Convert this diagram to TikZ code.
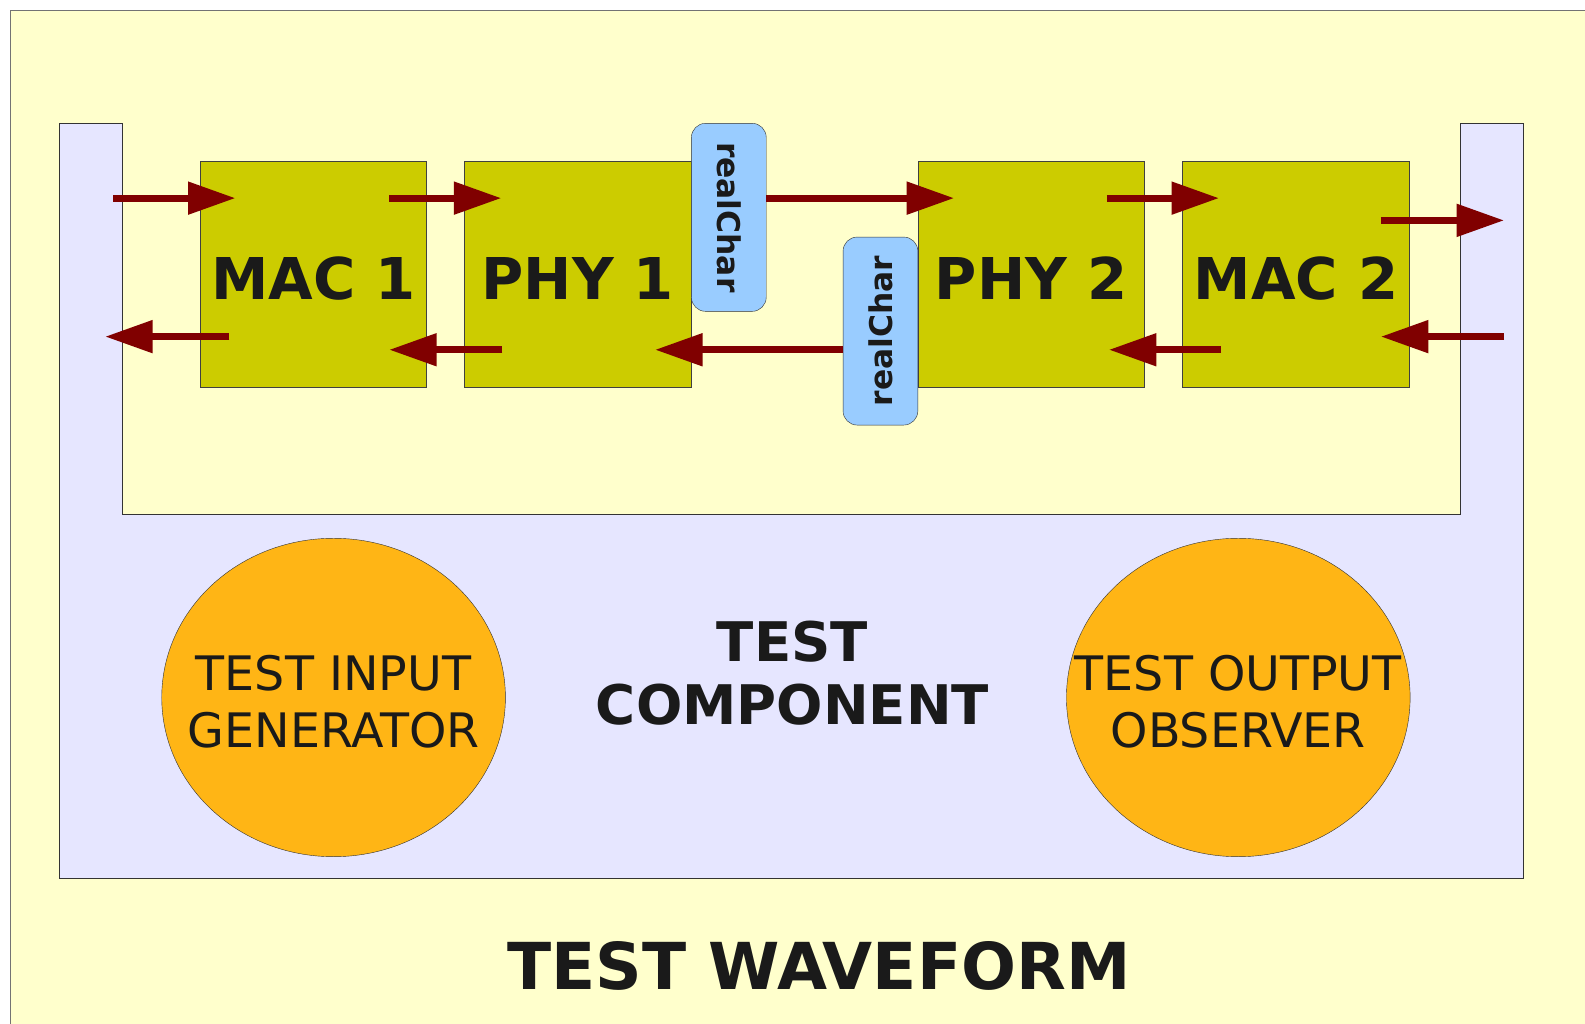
\documentclass[tikz,border=0pt]{standalone}
\usepackage{fontspec}
\setmainfont{DejaVu Sans}
\usetikzlibrary{arrows.meta,shapes.geometric}
\definecolor{waveyellow}{HTML}{FFFFCC}
\definecolor{complavender}{HTML}{E6E6FF}
\definecolor{blockolive}{HTML}{CCCC00}
\definecolor{chanblue}{HTML}{99CCFF}
\definecolor{testorange}{HTML}{FFB515}
\definecolor{flowred}{HTML}{800000}
\definecolor{textgray}{HTML}{1A1A1A}
\tikzset{
  block/.style={draw=black!75, fill=blockolive, minimum width=224pt, minimum height=224pt,
    inner sep=0pt, text height=50pt, text depth=0pt, text=textgray,
    font=\fontsize{57}{60}\selectfont\bfseries},
  channel/.style={draw=black!80, fill=chanblue, rounded corners=14pt, minimum width=186pt,
    minimum height=74pt, inner sep=0pt, text=textgray, font=\fontsize{31}{34}\selectfont\bfseries},
  tester/.style={ellipse, draw=black!80, fill=testorange, minimum width=340pt, minimum height=315pt,
    inner sep=0pt},
  testtext/.style={align=center, inner sep=0pt, text=textgray, font=\fontsize{47}{57}\selectfont},
  title/.style={align=center, inner sep=0pt, text=textgray},
  flow/.style={draw=flowred, line width=7pt, -{Triangle[length=47pt,width=31pt]}},
}
\begin{document}
\begin{tikzpicture}[x=1pt, y=-1pt]
  \useasboundingbox (0,0) rectangle (1568,1013);
  % waveform frame
  \path[fill=waveyellow, draw=black!55, line width=1pt] (10,10) rectangle (1590,1040);
  % test component
  \path[fill=complavender, draw=black!80, line width=1pt]
    (59,122) -- (121,122) -- (121,509) -- (1445,509) -- (1445,122)
    -- (1507,122) -- (1507,869) -- (59,869) -- cycle;

  \node[block] (mac1) at (310,271) {MAC 1};
  \node[block] (phy1) at (571.5,271) {PHY 1};
  \node[block] (phy2) at (1020,271) {PHY 2};
  \node[block] (mac2) at (1282,271) {MAC 2};
  \node[channel, rotate=-90] (chan1) at (721,215) {realChar};
  \node[channel, rotate=90] (chan2) at (871,327.5) {realChar};

  \node[tester] (gen) at (330,690) {};
  \node[tester] (obs) at (1225,690) {};
  \node[testtext] (gentext) at (330,694) {TEST INPUT\\GENERATOR};
  \node[testtext] (obstext) at (1225,694) {TEST OUTPUT\\OBSERVER};
  \node[title, font=\fontsize{54}{63}\selectfont\bfseries] (comp) at (784,666) {TEST\\COMPONENT};
  \node[title, font=\fontsize{64}{70}\selectfont\bfseries] (wave) at (810,956) {TEST WAVEFORM};

  % arrow ends
  \coordinate (a1) at (112,196);   \coordinate (a2) at (233,196);
  \coordinate (b1) at (385,196);   \coordinate (b2) at (496,196);
  \coordinate (c2) at (944,196);
  \coordinate (d1) at (1095,196);  \coordinate (d2) at (1206,196);
  \coordinate (e1) at (1366,218);  \coordinate (e2) at (1488,218);
  \coordinate (f1) at (1488,333);  \coordinate (f2) at (1366,333);
  \coordinate (g1) at (1208,346);  \coordinate (g2) at (1097,346);
  \coordinate (h2) at (648,346);
  \coordinate (i1) at (497,346);   \coordinate (i2) at (385,346);
  \coordinate (j1) at (227,333);   \coordinate (j2) at (104,333);

  \draw[flow] (a1) -- (a2);
  \draw[flow] (b1) -- (b2);
  \draw[flow] (chan1.north |- c2) -- (c2);
  \draw[flow] (d1) -- (d2);
  \draw[flow] (e1) -- (e2);
  \draw[flow] (f1) -- (f2);
  \draw[flow] (g1) -- (g2);
  \draw[flow] (chan2.north |- h2) -- (h2);
  \draw[flow] (i1) -- (i2);
  \draw[flow] (j1) -- (j2);
\end{tikzpicture}
\end{document}
